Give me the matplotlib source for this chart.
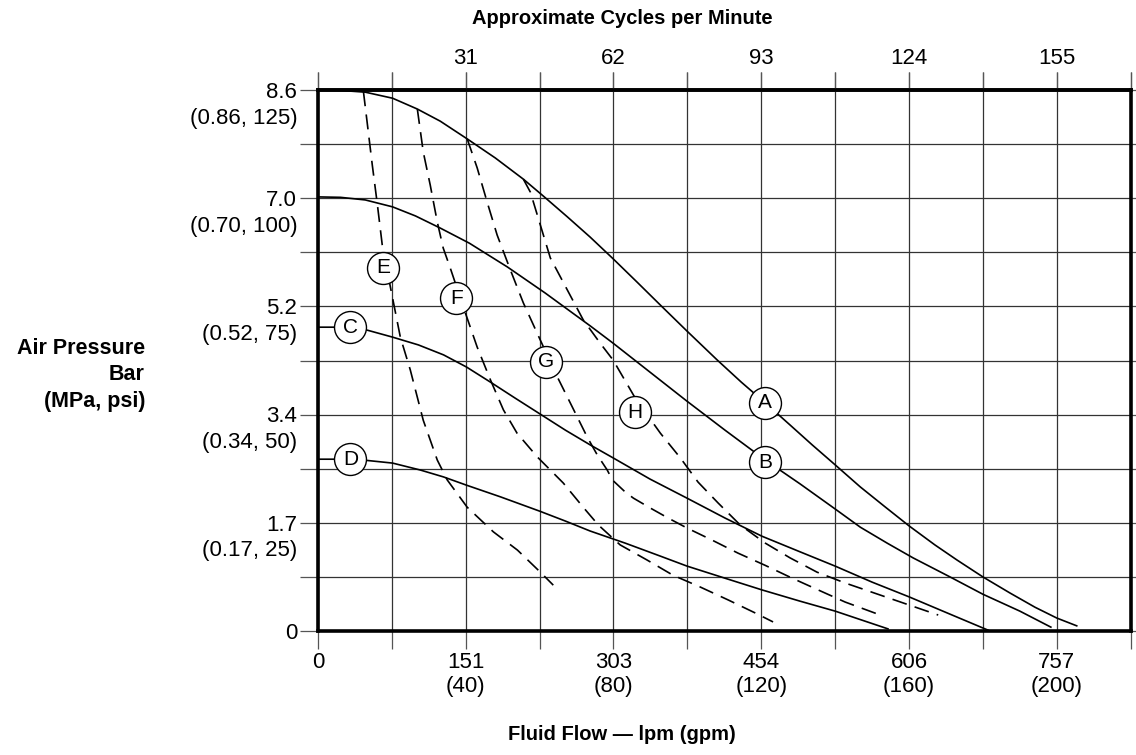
import matplotlib
matplotlib.use("Agg")
import matplotlib.pyplot as plt
import matplotlib.transforms as mtransforms
import numpy as np

plt.rcParams['font.family'] = ['Liberation Sans', 'DejaVu Sans']

# flow in gpm, air pressure in psi
a_gpm = [0, 6.1, 12.8, 20.2, 26.9, 33.1, 40.4, 48.0, 55.6, 61.0, 67.5, 73.7, 79.9, 86.4, 92.7, 99.9,
         108.1, 114.6, 121.1, 127.8, 133.8, 140.0, 146.8, 153.5, 160.0, 167.0, 173.0, 180.0, 187.3,
         194.1, 200.0, 205.4]
a_psi = [125.0, 124.9, 124.5, 123.1, 120.6, 117.8, 113.7, 109.3, 104.4, 100.5, 95.7, 91.0, 86.0, 80.6,
         75.3, 69.3, 62.6, 57.5, 52.7, 47.6, 43.0, 38.4, 33.3, 28.7, 24.3, 19.9, 16.4, 12.5, 8.8,
         5.5, 3.0, 1.2]

b_gpm = [0, 6.1, 12.8, 20.2, 26.4, 33.1, 41.0, 51.3, 61.5, 73.7, 79.9, 89.9, 99.9, 110.2, 121.1,
         130.5, 140.0, 146.8, 154.1, 161.1, 171.1, 180.0, 190.0, 198.4]
b_psi = [100.3, 100.2, 99.6, 98.0, 95.9, 93.1, 89.6, 84.1, 78.1, 70.5, 66.5, 59.8, 53.1, 46.4, 39.5,
         34.0, 28.2, 24.0, 20.3, 16.9, 12.5, 8.5, 4.6, 0.9]

c_gpm = [0, 8.8, 13.4, 20.2, 27.2, 34.0, 40.2, 46.7, 53.4, 60.2, 67.0, 73.7, 79.9, 89.9, 99.9, 110.2,
         120.2, 130.5, 140.0, 150.0, 160.0, 171.1, 181.4]
c_psi = [70.2, 70.2, 69.5, 67.9, 66.1, 63.8, 61.0, 57.5, 53.8, 50.1, 46.4, 43.0, 40.0, 35.1, 30.7, 26.1,
         21.9, 18.3, 15.0, 11.3, 7.9, 3.9, 0.2]

d_gpm = [0, 8.8, 12.3, 20.2, 27.7, 34.0, 40.2, 49.4, 60.0, 67.0, 73.7, 83.2, 92.7, 99.9, 110.2, 120.2,
         130.5, 140.0, 154.3]
d_psi = [39.7, 39.7, 39.5, 38.8, 37.2, 35.6, 33.7, 31.0, 27.7, 25.4, 23.1, 20.3, 17.3, 15.0, 12.2, 9.5,
         6.9, 4.6, 0.5]

e_gpm = [12.3, 14.7, 16.1, 17.4, 19.6, 22.3, 25.0, 28.5, 32.3, 35.0, 40.4, 47.5, 54.0, 60.2, 63.7]
e_psi = [124.7, 107.7, 98.4, 89.2, 79.5, 67.9, 60.3, 48.7, 39.5, 34.9, 28.6, 22.9, 18.7, 13.6, 10.6]

f_gpm = [26.9, 28.5, 30.4, 32.3, 33.9, 35.8, 39.9, 43.1, 46.7, 50.2, 53.9, 59.4, 66.4, 71.8, 75.9,
         81.8, 89.1, 96.1, 103.4, 111.0, 118.3, 123.2]
f_psi = [120.6, 110.7, 103.0, 94.5, 88.5, 83.9, 73.5, 65.6, 58.0, 51.1, 45.7, 40.2, 34.2, 28.6, 24.5,
         19.9, 16.4, 12.9, 10.2, 7.2, 4.2, 2.1]

g_gpm = [40.4, 43.1, 45.8, 48.5, 52.1, 55.6, 60.2, 64.8, 68.3, 72.9, 75.6, 78.3, 79.7, 83.2, 85.4,
         90.0, 94.8, 99.9, 106.7, 113.7, 121.0, 128.4, 135.4, 142.7, 152.2]
g_psi = [113.7, 107.0, 99.1, 91.5, 83.4, 75.8, 67.2, 58.7, 52.7, 44.8, 40.7, 37.2, 34.9, 32.1, 30.7,
         28.4, 26.1, 23.8, 21.0, 18.0, 15.2, 12.2, 9.5, 6.7, 3.7]

h_gpm = [55.6, 57.5, 60.2, 62.9, 67.5, 71.8, 76.4, 79.9, 85.9, 92.7, 98.1, 102.9, 108.3, 114.3, 121.1,
         127.8, 135.1, 142.7, 146.8, 167.9]
h_psi = [104.4, 101.4, 93.8, 86.2, 78.8, 71.9, 66.5, 62.6, 53.8, 45.7, 40.0, 34.4, 29.6, 24.5, 20.3,
         16.9, 13.6, 11.1, 9.9, 3.7]

# curve tags
tags = ['A', 'B', 'C', 'D', 'E', 'F', 'G', 'H']
tag_gpm = [121.1, 121.1, 8.8, 8.8, 17.7, 37.5, 61.8, 85.9]
tag_psi = [52.7, 39.0, 70.2, 39.7, 83.9, 76.9, 62.2, 50.6]

# axis labels
flow_gpm = [40, 80, 120, 160, 200]
flow_lpm = [151, 303, 454, 606, 757]
cycles = [31, 62, 93, 124, 155]
press_psi = [0, 25, 50, 75, 100, 125]
press_bar = ['0', '1.7', '3.4', '5.2', '7.0', '8.6']
press_mpa = ['', '0.17', '0.34', '0.52', '0.70', '0.86']

TICK_FS = 16

fig = plt.figure(figsize=(11.36, 7.55), dpi=100)
ax = fig.add_axes([0.2799, 0.1642, 0.7154, 0.7166])
ax.set_xlim(0, 220)
ax.set_ylim(0, 125)

xt = np.arange(0, 221, 20)
yt = np.arange(0, 125.1, 12.5)

xlabels = []
for v in xt:
    if v == 0:
        xlabels.append('0')
    elif v in flow_gpm:
        i = flow_gpm.index(v)
        xlabels.append(f"{flow_lpm[i]}\n({flow_gpm[i]})")
    else:
        xlabels.append('')
ax.set_xticks(xt)
ax.set_xticklabels(xlabels)

ylabels = []
for v in yt:
    if v in press_psi:
        i = press_psi.index(v)
        if press_mpa[i]:
            ylabels.append(f"{press_bar[i]}\n({press_mpa[i]}, {press_psi[i]})")
        else:
            ylabels.append(press_bar[i])
    else:
        ylabels.append('')
ax.set_yticks(yt)
ax.set_yticklabels(ylabels, linespacing=1.3)

ax.grid(True, color='#333333', lw=0.9, zorder=0)
ax.set_axisbelow(True)
ax.tick_params(direction='out', length=13, width=0.9, color='#555555',
               top=True, right=True, labelsize=TICK_FS, pad=2)
for s in ax.spines.values():
    s.set_linewidth(2.6)

# shift the y labels so the first line sits on the tick
shift = mtransforms.ScaledTranslation(0, 0.37 * TICK_FS / 72, fig.dpi_scale_trans)
for lab in ax.get_yticklabels():
    lab.set_verticalalignment('top')
    lab.set_transform(lab.get_transform() + shift)

secax = ax.secondary_xaxis('top')
secax.set_xticks(xt)
toplabels = []
for v in xt:
    if v in flow_gpm:
        toplabels.append(str(cycles[flow_gpm.index(v)]))
    else:
        toplabels.append('')
secax.set_xticklabels(toplabels)
secax.tick_params(direction='out', length=13, width=0.9, color='#555555', labelsize=TICK_FS, pad=2)
secax.spines['top'].set_linewidth(2.6)

solid = [(a_gpm, a_psi), (b_gpm, b_psi), (c_gpm, c_psi), (d_gpm, d_psi)]
dashed = [(e_gpm, e_psi), (f_gpm, f_psi), (g_gpm, g_psi), (h_gpm, h_psi)]
for x, y in solid:
    ax.plot(x, y, color='black', lw=1.2, zorder=3, solid_joinstyle='round')
for x, y in dashed:
    ax.plot(x, y, color='black', lw=1.2, ls=(0, (9, 5)), zorder=3)

for t, x, y in zip(tags, tag_gpm, tag_psi):
    ax.plot(x, y, 'o', ms=23, mfc='white', mec='black', mew=1.0, zorder=5)
    ax.text(x, y, t, ha='center', va='center', fontsize=15, zorder=6)

fig.text(622 / 1136, 1 - 18 / 755, 'Approximate Cycles per Minute', ha='center', va='center',
         fontsize=14.5, fontweight='bold')
fig.text(622 / 1136, 1 - 735 / 755, 'Fluid Flow \u2014 lpm (gpm)', ha='center', va='center',
         fontsize=14.5, fontweight='bold')
fig.text(145 / 1136, 1 - 375 / 755, 'Air Pressure\nBar\n(MPa, psi)', ha='right', va='center',
         multialignment='right', fontsize=15.5, fontweight='bold', linespacing=1.35)

fig.savefig('out.png', dpi=100)
